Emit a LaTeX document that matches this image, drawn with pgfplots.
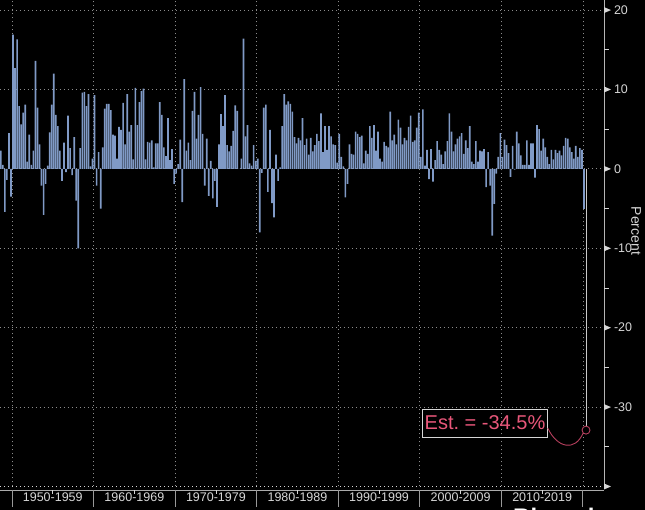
\documentclass[border=0pt]{standalone}
\usepackage{pgfplots}
\pgfplotsset{compat=1.18}
\usepackage{pgfplotstable}
\usepackage{fontspec}
\setmainfont{Liberation Sans}

\definecolor{bar}{HTML}{809AC6}
\definecolor{grd}{HTML}{8C8C8C}
\definecolor{lbl}{HTML}{D6D6D6}
\definecolor{est}{HTML}{E8577A}
\definecolor{estline}{HTML}{B8405E}

% US real GDP, quarterly change, annualized (percent)
\pgfplotstableread{
year q1 q2 q3 q4
1948 6.2 6.8 2.3 0.5
1949 -5.4 -1.4 4.5 -3.5
1950 16.9 12.7 16.3 7.9
1951 5.6 7.1 8.1 0.9
1952 4.3 0.5 2.3 13.6
1953 7.7 3.1 -2.1 -5.8
1954 -1.9 0.4 4.6 8.1
1955 12.0 6.8 5.4 2.3
1956 -1.5 3.3 -0.4 6.7
1957 2.6 -0.8 4.0 -4.0
1958 -10.0 2.6 9.6 9.7
1959 7.9 9.4 0.3 1.3
1960 9.3 -2.1 2.1 -5.0
1961 2.7 7.6 8.2 8.2
1962 7.4 4.3 4.2 1.3
1963 5.3 4.9 8.3 3.1
1964 9.4 4.7 5.5 1.2
1965 10.2 5.5 8.4 9.8
1966 10.1 1.2 3.4 3.3
1967 3.6 0.2 3.2 3.2
1968 8.4 6.8 2.7 1.6
1969 6.4 1.1 2.5 -1.9
1970 -0.6 0.6 3.7 -4.2
1971 11.3 2.3 3.3 1.1
1972 7.3 9.7 3.8 6.8
1973 10.3 4.4 -2.1 3.8
1974 -3.4 1.0 -3.7 -1.5
1975 -4.8 3.1 6.9 5.4
1976 9.3 3.0 2.2 2.9
1977 4.8 8.0 7.3 0.0
1978 1.3 16.4 4.1 5.5
1979 0.7 0.4 3.0 1.0
1980 1.3 -8.0 -0.5 7.7
1981 8.1 -2.9 4.9 -4.3
1982 -6.1 1.8 -1.5 0.2
1983 5.4 9.4 8.1 8.5
1984 8.2 7.2 4.0 3.2
1985 3.9 3.6 6.4 3.0
1986 3.8 1.8 3.9 2.2
1987 3.0 4.4 3.5 7.0
1988 2.1 5.4 2.4 5.4
1989 4.1 3.1 3.0 0.8
1990 4.4 1.5 0.3 -3.6
1991 -1.9 3.1 1.9 1.8
1992 4.7 4.4 4.0 4.2
1993 0.7 2.3 1.9 5.4
1994 3.9 5.5 2.3 4.7
1995 1.3 0.9 3.4 2.9
1996 2.7 7.2 3.6 4.3
1997 3.1 6.2 5.2 3.1
1998 3.9 3.6 5.3 6.7
1999 3.4 3.6 5.2 7.1
2000 1.5 7.5 0.4 2.4
2001 -1.3 2.5 -1.6 1.1
2002 3.5 2.4 1.8 0.6
2003 2.2 3.5 7.0 4.7
2004 2.2 3.1 3.8 4.1
2005 4.5 1.9 3.6 2.6
2006 5.4 0.9 0.6 3.5
2007 0.9 2.3 2.2 2.5
2008 -2.3 2.1 -2.1 -8.4
2009 -4.4 -0.6 1.5 4.5
2010 1.5 3.7 3.0 2.0
2011 -1.0 2.9 -0.1 4.7
2012 3.2 1.7 0.5 0.5
2013 3.6 0.5 3.2 3.2
2014 -1.1 5.5 5.0 2.3
2015 3.8 2.7 1.5 0.6
2016 2.4 1.2 2.4 2.0
2017 2.3 1.7 2.9 3.9
2018 3.8 2.7 2.1 1.3
2019 2.9 1.5 2.6 2.4
}\gdp

\pgfplotsset{gdpbar/.style={ybar, bar shift=0pt, bar width=0.205, fill=bar, draw=none, mark=none}}

\begin{document}
\begin{tikzpicture}
\useasboundingbox (0pt,0pt) rectangle (645pt,510pt);
\fill[black] (0pt,0pt) rectangle (645pt,510pt);
\clip (0pt,0pt) rectangle (645pt,510pt);
\begin{axis}[
    at={(0pt,23.5pt)}, anchor=south west,
    scale only axis, width=604pt, height=486.5pt,
    xmin=1948.53, xmax=2022.58, ymin=-40, ymax=21.27,
    axis line style={draw=none},
    major tick length=0pt, minor tick length=0pt,
    xtick={1955,1965,...,2015},
    xticklabels={1950-1959,1960-1969,1970-1979,1980-1989,1990-1999,2000-2009,2010-2019},
    minor xtick={1950,1960,...,2020},
    ytick={-40,-30,...,20},
    yticklabels={,-30,-20,-10,0,10,20},
    yticklabel pos=right,
    xminorgrids, ymajorgrids,
    major grid style={grd, line width=0.8pt, dash pattern=on 1.2pt off 2.8pt},
    minor grid style={grd, line width=0.8pt, dash pattern=on 1.2pt off 2.8pt},
    ticklabel style={font=\fontsize{12.5}{14}\selectfont, text=lbl},
    xticklabel style={anchor=base, yshift=-15.5pt},
    yticklabel style={anchor=west, xshift=6.5pt},
]
\addplot[gdpbar] table[x expr=\thisrow{year}+0.125, y=q1] {\gdp};
\addplot[gdpbar] table[x expr=\thisrow{year}+0.375, y=q2] {\gdp};
\addplot[gdpbar] table[x expr=\thisrow{year}+0.625, y=q3] {\gdp};
\addplot[gdpbar] table[x expr=\thisrow{year}+0.875, y=q4] {\gdp};
\addplot[gdpbar] coordinates {(2020.125,-5.0)};
% Q2 2020 estimate
\addplot[ycomb, draw=lbl!85!gray, line width=0.9pt, mark=none] coordinates {(2020.375,-32.9)};
\addplot[only marks, mark=*, mark size=4pt, draw=estline, fill=black, line width=0.9pt]
    coordinates {(2020.375,-32.9)};
\coordinate (est) at (axis cs:2020.375,-32.9);
\end{axis}

% frame
\draw[lbl, line width=0.8pt, dash pattern=on 1.2pt off 2.8pt] (0pt,23.5pt) -- (604pt,23.5pt);
\draw[lbl!85!black, line width=1pt] (604pt,22pt) -- (604pt,510pt);
\draw[lbl!80!black, line width=0.9pt] (0pt,20pt) -- (604pt,20pt);
\foreach \i in {0,...,7}
    \draw[gray!80!white, line width=1pt] ({12pt+81.57pt*\i},20pt) -- ++(0pt,-17pt);
\foreach \i in {0,...,6}
    \draw[lbl, line width=0.8pt] ({52.8pt+81.57pt*\i},20pt) -- ++(0pt,-4pt);
\foreach \v in {-40,-30,...,20} {
    \pgfmathsetmacro\yy{23.5+(\v+40)*7.94}
    \fill[lbl] (604pt,\yy pt+3pt) -- (611pt,\yy pt) -- (604pt,\yy pt-3pt) -- cycle;
}
\foreach \v in {-35,-25,...,15} {
    \pgfmathsetmacro\yy{23.5+(\v+40)*7.94}
    \draw[lbl, line width=0.8pt] (604pt,\yy pt) -- ++(5pt,0pt);
}

% annotation
\node[draw=lbl, line width=0.8pt, text=est, font=\fontsize{20}{24}\selectfont,
      inner xsep=2pt, inner ysep=0pt, minimum height=28pt] (box) at (485pt,87pt) {Est.\ = -34.5\%};
\draw[estline, line width=0.9pt] ([yshift=-5pt]box.east) .. controls (557pt,62pt) and (575pt,58pt)
    .. ([shift={(-2.9pt,-2.9pt)}]est);

\node[rotate=-90, text=lbl, font=\fontsize{14}{16}\selectfont, inner sep=1pt] at (636pt,279pt) {Percent};
\node[anchor=base west, text=white, font=\fontsize{24}{28}\selectfont\bfseries, inner sep=0pt]
    at (513pt,-16pt) {Bloomberg};
\end{tikzpicture}
\end{document}
